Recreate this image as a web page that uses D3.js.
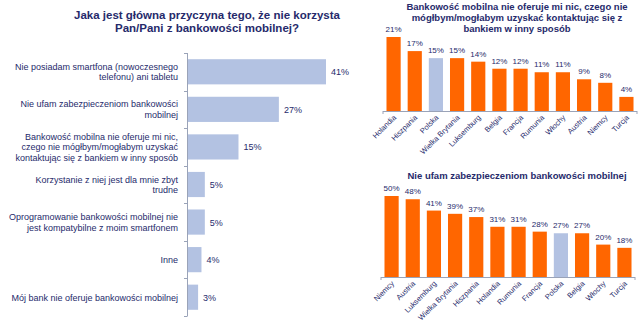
<!DOCTYPE html>
<html><head><meta charset="utf-8">
<script src="https://cdn.jsdelivr.net/npm/d3@7"></script>
<style>
body{margin:0;background:#fff;}
svg{display:block;font-family:"Liberation Sans",Arial,sans-serif;}
</style></head><body>
<svg id="c" width="640" height="325"></svg>
<script>
const leftTitle = ["Jaka jest główna przyczyna tego, że nie korzysta", "Pan/Pani z bankowości mobilnej?"];
const leftCategories = [
  ["Nie posiadam smartfona (nowoczesnego", "telefonu) ani tabletu"],
  ["Nie ufam zabezpieczeniom bankowości", "mobilnej"],
  ["Bankowość mobilna nie oferuje mi nic,", "czego nie mógłbym/mogłabym uzyskać", "kontaktując się z bankiem w inny sposób"],
  ["Korzystanie z niej jest dla mnie zbyt", "trudne"],
  ["Oprogramowanie bankowości mobilnej nie", "jest kompatybilne z moim smartfonem"],
  ["Inne"],
  ["Mój bank nie oferuje bankowości mobilnej"]
];
const leftValues = [41, 27, 15, 5, 5, 4, 3];

const topTitle = ["Bankowość mobilna nie oferuje mi nic, czego nie", "mógłbym/mogłabym uzyskać kontaktując się z", "bankiem w inny sposób"];
const topCountries = ["Holandia","Hiszpania","Polska","Wielka Brytania","Luksemburg","Belgia","Francja","Rumunia","Włochy","Austria","Niemcy","Turcja"];
const topValues = [21, 17, 15, 15, 14, 12, 12, 11, 11, 9, 8, 4];

const bottomTitle = ["Nie ufam zabezpieczeniom bankowości mobilnej"];
const bottomCountries = ["Niemcy","Austria","Luksemburg","Wielka Brytania","Hiszpania","Holandia","Rumunia","Francja","Polska","Belgia","Włochy","Turcja"];
const bottomValues = [50, 48, 41, 39, 37, 31, 31, 28, 27, 27, 20, 18];

const highlight = "Polska";
const navy = "#262a6b";
const blue = "#b3c2e2";
const orange = "#ff6600";
const axisCol = "#9aa3b8";

const svg = d3.select("#c");

// ---------- Left chart ----------
const L = {x0:188, top:53, bottom:316};
const ly = d3.scaleBand().domain(d3.range(leftValues.length)).range([L.top, L.bottom]).paddingInner(0.33).paddingOuter(0.165);
const lx = d3.scaleLinear().domain([0, 41]).range([L.x0, 326]);

svg.append("g").selectAll("text").data(leftTitle).join("text")
  .attr("x", 207).attr("y", (d,i)=>19 + i*12.5)
  .attr("text-anchor","middle").attr("font-size","11.5px").attr("font-weight","bold").attr("fill", navy)
  .text(d=>d);

svg.append("g").selectAll("rect").data(leftValues).join("rect")
  .attr("x", lx(0)).attr("y",(d,i)=>ly(i)).attr("width", d=>lx(d)-lx(0)).attr("height", ly.bandwidth())
  .attr("fill", blue);

svg.append("g").selectAll("text").data(leftValues).join("text")
  .attr("x", d=>lx(d)+5).attr("y",(d,i)=>ly(i)+ly.bandwidth()/2+3.5)
  .attr("font-size","9px").attr("fill", navy).text(d=>d+"%");

const lg = svg.append("g");
leftCategories.forEach((lines,i)=>{
  const cy = ly(i)+ly.bandwidth()/2;
  const lh = 10.5;
  const start = cy - (lines.length-1)*lh/2 + 3.3;
  lg.append("text").attr("text-anchor","end").attr("font-size","9px").attr("fill",navy)
    .selectAll("tspan").data(lines).join("tspan")
    .attr("x", 178).attr("y",(d,j)=>start + j*lh).text(d=>d);
});

// left axis with separators
const step = ly.step();
const la = svg.append("g").attr("stroke", axisCol).attr("stroke-width",1);
la.append("line").attr("x1",L.x0-0.5).attr("x2",L.x0-0.5).attr("y1",L.top).attr("y2",L.bottom);
d3.range(leftValues.length+1).forEach(i=>{
  const y = Math.round(L.top + i*step)+0.5;
  la.append("line").attr("x1",L.x0-4).attr("x2",L.x0-0.5).attr("y1",y).attr("y2",y);
});

// ---------- Right column charts ----------
function colChart(cfg){
  const x = d3.scaleBand().domain(cfg.cats).range([cfg.x0, cfg.x1]).paddingInner(0.33).paddingOuter(0.165);
  const y = d3.scaleLinear().domain([0, cfg.maxV]).range([cfg.base, cfg.topY]);
  const g = svg.append("g");
  g.selectAll("text.t").data(cfg.title).join("text").attr("class","t")
    .attr("x", 517).attr("y",(d,i)=>cfg.titleY + i*11)
    .attr("text-anchor","middle").attr("font-size","9.5px").attr("font-weight","bold").attr("fill",navy).text(d=>d);
  g.selectAll("rect").data(cfg.vals).join("rect")
    .attr("x",(d,i)=>x(cfg.cats[i])).attr("y",d=>y(d))
    .attr("width",x.bandwidth()).attr("height",d=>cfg.base-y(d))
    .attr("fill",(d,i)=>cfg.cats[i]===highlight?blue:orange);
  g.selectAll("text.v").data(cfg.vals).join("text").attr("class","v")
    .attr("x",(d,i)=>x(cfg.cats[i])+x.bandwidth()/2).attr("y",d=>y(d)-5)
    .attr("text-anchor","middle").attr("font-size","8px").attr("fill",navy).text(d=>d+"%");
  const ax = g.append("g").attr("transform",`translate(0,${cfg.base})`)
    .call(d3.axisBottom(x).tickSize(0).tickPadding(0));
  ax.select(".domain").attr("stroke",axisCol).attr("d",`M${cfg.x0},0.5H${cfg.x1}`);
  ax.selectAll("text").attr("font-size","7.5px").attr("fill",navy).attr("font-family","Liberation Sans, Arial, sans-serif")
    .attr("text-anchor","end").attr("dy",null)
    .attr("transform","translate(3,7) rotate(-45)");
  g.append("g").attr("stroke",axisCol).selectAll("line").data([cfg.x0, cfg.x1]).join("line")
    .attr("x1",d=>d).attr("x2",d=>d).attr("y1",cfg.base).attr("y2",cfg.base+3);
}

colChart({cats:topCountries, vals:topValues, maxV:21, x0:383, x1:637, base:111, topY:37, title:topTitle, titleY:10});
colChart({cats:bottomCountries, vals:bottomValues, maxV:50, x0:381, x1:635, base:277, topY:196, title:bottomTitle, titleY:179});
</script>
</body></html>
